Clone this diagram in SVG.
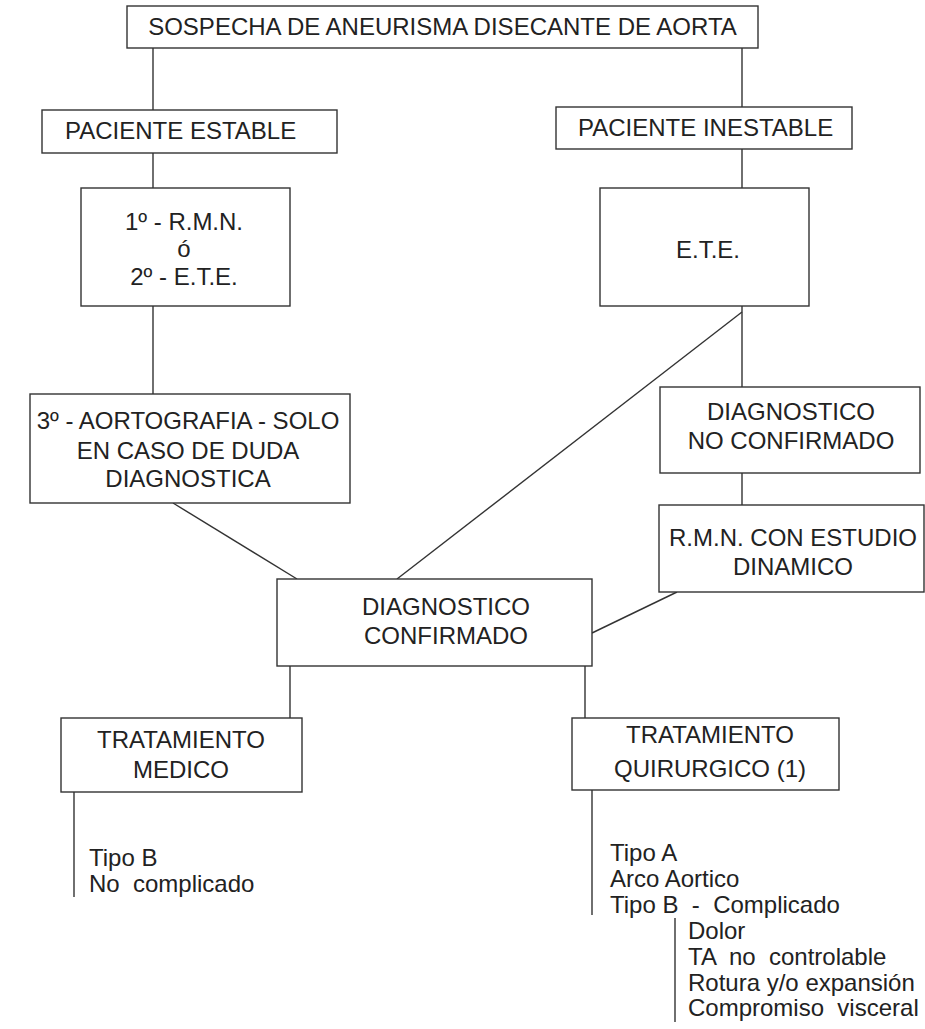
<svg xmlns="http://www.w3.org/2000/svg" width="925" height="1029" viewBox="0 0 925 1029">
<style>
.box{fill:#fff;stroke:#333;stroke-width:1.4}
.ln{fill:none;stroke:#333;stroke-width:1.4}
text{font-family:"Liberation Sans",Arial,sans-serif;font-size:24px;fill:#222}
.c{text-anchor:middle}
.l{font-size:24px;white-space:pre}
</style>
<rect width="925" height="1029" fill="#fff"/>
<g id="connectors">
<line class="ln" x1="153" y1="48" x2="153" y2="110"/>
<line class="ln" x1="742" y1="48" x2="742" y2="107"/>
<line class="ln" x1="153" y1="153" x2="153" y2="188"/>
<line class="ln" x1="742" y1="149" x2="742" y2="188"/>
<line class="ln" x1="153" y1="306" x2="153" y2="394"/>
<line class="ln" x1="742" y1="306" x2="742" y2="387"/>
<line class="ln" x1="742" y1="312" x2="397" y2="579"/>
<line class="ln" x1="742" y1="473" x2="742" y2="505"/>
<line class="ln" x1="173" y1="503" x2="297" y2="579"/>
<line class="ln" x1="677" y1="592" x2="592" y2="633"/>
<line class="ln" x1="290" y1="666" x2="290" y2="718"/>
<line class="ln" x1="585" y1="666" x2="585" y2="718"/>
<line class="ln" x1="74" y1="792" x2="74" y2="897"/>
<line class="ln" x1="592" y1="790" x2="592" y2="915"/>
<line class="ln" x1="675" y1="918" x2="675" y2="1022"/>
</g>
<g id="n-sospecha">
<rect class="box" x="127" y="6" width="631" height="42"/>
<text class="c" x="442.5" y="35">SOSPECHA DE ANEURISMA DISECANTE DE AORTA</text>
</g>
<g id="n-estable">
<rect class="box" x="42" y="110" width="295" height="43"/>
<text x="65" y="139">PACIENTE ESTABLE</text>
</g>
<g id="n-inestable">
<rect class="box" x="556" y="107" width="296" height="42"/>
<text x="578" y="136">PACIENTE INESTABLE</text>
</g>
<g id="n-rmn-ete">
<rect class="box" x="81" y="188" width="209" height="118"/>
<text class="c" x="184" y="230">1º - R.M.N.</text>
<text class="c" x="184" y="257">ó</text>
<text class="c" x="184" y="285">2º - E.T.E.</text>
</g>
<g id="n-ete">
<rect class="box" x="600" y="188" width="209" height="118"/>
<text class="c" x="708" y="258">E.T.E.</text>
</g>
<g id="n-aortografia">
<rect class="box" x="30" y="394" width="320" height="109"/>
<text class="c" x="188" y="429">3º - AORTOGRAFIA - SOLO</text>
<text class="c" x="188" y="459">EN CASO DE DUDA</text>
<text class="c" x="188" y="487">DIAGNOSTICA</text>
</g>
<g id="n-no-confirmado">
<rect class="box" x="660" y="387" width="260" height="86"/>
<text class="c" x="791" y="420">DIAGNOSTICO</text>
<text class="c" x="791" y="449">NO CONFIRMADO</text>
</g>
<g id="n-rmn-dinamico">
<rect class="box" x="659" y="505" width="265" height="87"/>
<text class="c" x="793" y="546">R.M.N. CON ESTUDIO</text>
<text class="c" x="793" y="575">DINAMICO</text>
</g>
<g id="n-confirmado">
<rect class="box" x="277" y="579" width="315" height="87"/>
<text class="c" x="446" y="615">DIAGNOSTICO</text>
<text class="c" x="446" y="644">CONFIRMADO</text>
</g>
<g id="n-medico">
<rect class="box" x="61" y="718" width="241" height="74"/>
<text class="c" x="181" y="748">TRATAMIENTO</text>
<text class="c" x="181" y="778">MEDICO</text>
</g>
<g id="n-quirurgico">
<rect class="box" x="572" y="718" width="267" height="72"/>
<text class="c" x="710" y="743">TRATAMIENTO</text>
<text class="c" x="710" y="777">QUIRURGICO (1)</text>
</g>
<g id="list-medico">
<text class="l" x="89" y="866">Tipo B</text>
<text class="l" x="89" y="892">No  complicado</text>
</g>
<g id="list-quirurgico">
<text class="l" x="610" y="861">Tipo A</text>
<text class="l" x="610" y="887">Arco Aortico</text>
<text class="l" x="610" y="913">Tipo B  -  Complicado</text>
<text class="l" x="688" y="939">Dolor</text>
<text class="l" x="688" y="965">TA  no  controlable</text>
<text class="l" x="688" y="991">Rotura y/o expansión</text>
<text class="l" x="688" y="1016">Compromiso  visceral</text>
</g>
</svg>
